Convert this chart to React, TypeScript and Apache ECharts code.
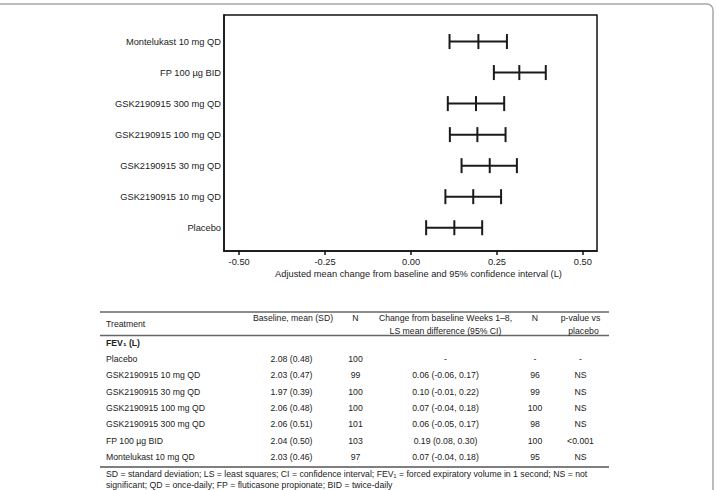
import React, { useEffect, useRef } from "react";
import * as echarts from "echarts";

const treatments = [
  "Placebo",
  "GSK2190915 10 mg QD",
  "GSK2190915 30 mg QD",
  "GSK2190915 100 mg QD",
  "GSK2190915 300 mg QD",
  "FP 100 µg BID",
  "Montelukast 10 mg QD",
];
const meanChange = [0.126, 0.181, 0.229, 0.193, 0.189, 0.315, 0.196];
const ciLow = [0.044, 0.1, 0.147, 0.113, 0.107, 0.241, 0.112];
const ciHigh = [0.207, 0.262, 0.308, 0.275, 0.271, 0.392, 0.279];
const xTicks = [-0.5, -0.25, 0, 0.25, 0.5];

const tableHeader = {
  treatment: "Treatment",
  baseline: "Baseline, mean (SD)",
  n1: "N",
  change1: "Change from baseline Weeks 1–8,",
  change2: "LS mean difference (95% CI)",
  n2: "N",
  p1: "p-value vs",
  p2: "placebo",
};
const sectionLabel = "FEV₁ (L)";
const baselineMean = ["2.08 (0.48)", "2.03 (0.47)", "1.97 (0.39)", "2.06 (0.48)", "2.06 (0.51)", "2.04 (0.50)", "2.03 (0.46)"];
const nBaseline = ["100", "99", "100", "100", "101", "103", "97"];
const lsDiff = ["-", "0.06 (-0.06, 0.17)", "0.10 (-0.01, 0.22)", "0.07 (-0.04, 0.18)", "0.06 (-0.05, 0.17)", "0.19 (0.08, 0.30)", "0.07 (-0.04, 0.18)"];
const nChange = ["-", "96", "99", "100", "98", "100", "95"];
const pValues = ["-", "NS", "NS", "NS", "NS", "<0.001", "NS"];
const footnotes = [
  "SD = standard deviation; LS = least squares; CI = confidence interval; FEV₁ = forced expiratory volume in 1 second; NS = not",
  "significant; QD = once-daily; FP = fluticasone propionate; BID = twice-daily",
];

const FONT = "'Liberation Sans', Arial, Helvetica, sans-serif";
const TXT = "#222";

export default function App() {
  const ref = useRef<HTMLDivElement>(null);
  useEffect(() => {
    document.body.style.margin = "0";
    const chart = echarts.init(ref.current!, null, { renderer: "svg" });

    const tfs = 8.7;
    const t = (text: string, x: number, y: number, align: string, bold = false) => ({
      type: "text",
      x,
      y,
      style: {
        text,
        fill: TXT,
        font: `${bold ? "bold " : ""}${tfs}px ${FONT}`,
        textAlign: align,
        textVerticalAlign: "middle",
      },
    });
    const rule = (y: number, w: number, c: string) => ({
      type: "line",
      shape: { x1: 100, y1: y, x2: 609, y2: y },
      style: { stroke: c, lineWidth: w },
    });

    const cols = { left: 106, base: 291.5, n1: 355.5, chg: 445.5, n2: 535, p: 580.5 };
    const graphics: any[] = [
      {
        type: "rect",
        shape: { x: -20, y: 4, width: 733, height: 600, r: 6 },
        style: { fill: "none", stroke: "#a8a8a8", lineWidth: 1.5 },
      },
      rule(312, 1.3, "#666"),
      rule(335.5, 1.3, "#666"),
      rule(467, 1.6, "#555"),
      t(tableHeader.treatment, cols.left, 324, "left"),
      t(tableHeader.baseline, cols.base + 1.5, 318, "center"),
      t(tableHeader.n1, cols.n1, 318, "center"),
      t(tableHeader.change1, cols.chg, 318, "center"),
      t(tableHeader.change2, cols.chg, 331, "center"),
      t(tableHeader.n2, cols.n2, 318, "center"),
      t(tableHeader.p1, cols.p, 318, "center"),
      t(tableHeader.p2, cols.p + 3, 331, "center"),
      t(sectionLabel, cols.left, 343, "left", true),
    ];
    treatments.forEach((name, i) => {
      const y = 358.7 + i * 16.43;
      graphics.push(t(name, cols.left, y, "left"));
      graphics.push(t(baselineMean[i], cols.base, y, "center"));
      graphics.push(t(nBaseline[i], cols.n1, y, "center"));
      graphics.push(t(lsDiff[i], cols.chg, y, "center"));
      graphics.push(t(nChange[i], cols.n2, y, "center"));
      graphics.push(t(pValues[i], cols.p, y, "center"));
    });
    footnotes.forEach((f, i) => graphics.push(t(f, cols.left, 473.5 + i * 11.5, "left")));

    const option: any = {
      animation: false,
      textStyle: { fontFamily: FONT },
      grid: {
        left: 224,
        right: 119,
        top: 15,
        height: 236,
        show: true,
        borderColor: "#111",
        borderWidth: 1.5,
        containLabel: false,
      },
      xAxis: {
        type: "value",
        min: -0.544,
        max: 0.541,
        axisLine: { show: true, onZero: false, lineStyle: { color: "#111", width: 1.5 } },
        axisTick: { show: true, customValues: xTicks, length: 4, lineStyle: { color: "#111", width: 1.5 } },
        axisLabel: {
          customValues: xTicks,
          formatter: (v: number) => v.toFixed(2),
          fontSize: 9.3,
          color: TXT,
          margin: 6,
          fontFamily: FONT,
        },
        splitLine: { show: false },
        name: "Adjusted mean change from baseline and 95% confidence interval (L)",
        nameLocation: "middle",
        nameGap: 18,
        nameTextStyle: { fontSize: 9.3, color: TXT, fontFamily: FONT, padding: [0, 0, 0, 16] },
      },
      yAxis: {
        type: "value",
        min: 0.25,
        max: 7.855,
        axisLine: { show: true, onZero: false, lineStyle: { color: "#111", width: 1.5 } },
        axisTick: { show: false },
        splitLine: { show: false },
        axisLabel: {
          customValues: [1, 2, 3, 4, 5, 6, 7],
          formatter: (v: number) => treatments[Math.round(v) - 1],
          fontSize: 9.3,
          color: TXT,
          margin: 3,
          fontFamily: FONT,
        },
      },
      series: [
        {
          type: "custom",
          data: treatments.map((_, i) => [ciLow[i], meanChange[i], ciHigh[i], i + 1]),
          encode: { x: [0, 1, 2], y: 3 },
          renderItem: (params: any, api: any) => {
            const yv = api.value(3);
            const lo = api.coord([api.value(0), yv]);
            const mid = api.coord([api.value(1), yv]);
            const hi = api.coord([api.value(2), yv]);
            const h = 7.5;
            const style = { stroke: "#1a1a1a", lineWidth: 2 };
            const vt = (p: number[]) => ({
              type: "line",
              shape: { x1: p[0], y1: p[1] - h, x2: p[0], y2: p[1] + h },
              style,
            });
            return {
              type: "group",
              children: [
                { type: "line", shape: { x1: lo[0], y1: lo[1], x2: hi[0], y2: hi[1] }, style },
                vt(lo),
                vt(mid),
                vt(hi),
              ],
            };
          },
        },
      ],
      graphic: graphics,
    };
    chart.setOption(option);
    return () => chart.dispose();
  }, []);
  return <div ref={ref} style={{ width: 716, height: 490 }} />;
}
